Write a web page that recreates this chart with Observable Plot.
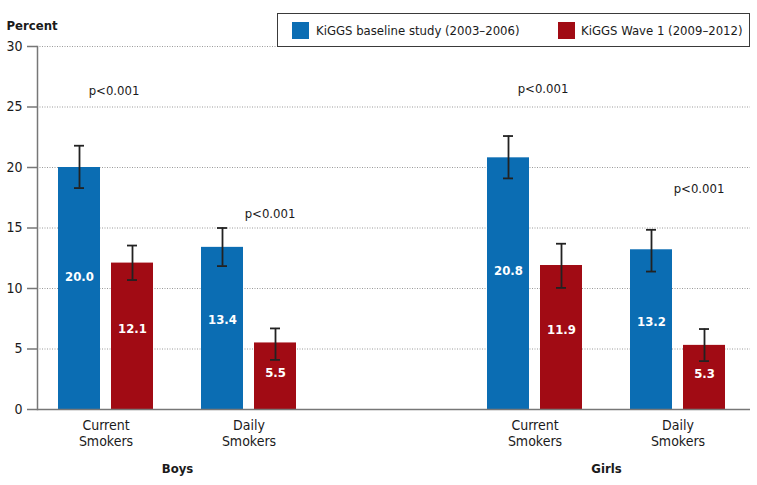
<!DOCTYPE html>
<html>
<head>
<meta charset="utf-8">
<script src="https://cdn.jsdelivr.net/npm/d3@7"></script>
<script src="https://cdn.jsdelivr.net/npm/@observablehq/plot@0.6"></script>
<style>
  html, body { margin: 0; padding: 0; background: #fff; }
  #wrap { position: relative; width: 757px; height: 485px; font-family: "DejaVu Sans Condensed", "Liberation Sans Narrow", "Roboto", sans-serif; color: #1a1a1a; }
  #legend { position: absolute; left: 277px; top: 13px; width: 473px; height: 34px; border: 1px solid #3a3a3a; background: #fff; box-sizing: border-box; }
  .sw { position: absolute; top: 8px; width: 17px; height: 17px; }
  .lt { position: absolute; top: 0; line-height: 33px; font-size: 13px; white-space: nowrap; }
</style>
</head>
<body>
<div id="wrap"></div>
<script>
// ---- data ----
const groups = ["Boys|Current", "Boys|Daily", "Girls|Current", "Girls|Daily"];
const categoryLabels = ["Current\nSmokers", "Daily\nSmokers", "Current\nSmokers", "Daily\nSmokers"];
const sexes = ["Boys", "Girls"];
const sexFirstGroup = ["Boys|Current", "Girls|Current"];
const seriesNames = ["KiGGS baseline study (2003–2006)", "KiGGS Wave 1 (2009–2012)"];
const baseline = [20.0, 13.4, 20.8, 13.2];
const baselineLow = [18.3, 11.85, 19.1, 11.4];
const baselineHigh = [21.8, 15.0, 22.6, 14.85];
const wave1 = [12.1, 5.5, 11.9, 5.3];
const wave1Low = [10.7, 4.1, 10.05, 4.0];
const wave1High = [13.55, 6.7, 13.7, 6.65];
const pLabels = ["p<0.001", "p<0.001", "p<0.001", "p<0.001"];
const pLabelY = [26.3, 16.2, 26.5, 18.2];
const yTicks = [0, 5, 10, 15, 20, 25, 30];

const colors = ["#0b6db3", "#a10b14"];
const FONT = '"DejaVu Sans Condensed", "Liberation Sans Narrow", "Roboto", sans-serif';

const rows = (vals, lo, hi) => groups.map((g, i) => ({group: g, value: vals[i], lo: lo[i], hi: hi[i]}));
const base = rows(baseline, baselineLow, baselineHigh);
const w1 = rows(wave1, wave1Low, wave1High);
const pData = groups.map((g, i) => ({group: g, label: pLabels[i], y: pLabelY[i], kind: g.split("|")[1]}));
const labelOf = new Map(groups.map((g, i) => [g, categoryLabels[i]]));

const BAR_OFF = 26.5; // half distance between paired bar centers (px)

const errMarks = (data, side) => [
  Plot.ruleX(data, {x: "group", y1: "lo", y2: "hi", dx: side * BAR_OFF, stroke: "#222", strokeWidth: 1.8}),
  Plot.tickY(data, {x: "group", y: "hi", stroke: "#222", strokeWidth: 1.8,
    insetLeft: side < 0 ? 16 : 69, insetRight: side < 0 ? 69 : 16}),
  Plot.tickY(data, {x: "group", y: "lo", stroke: "#222", strokeWidth: 1.8,
    insetLeft: side < 0 ? 16 : 69, insetRight: side < 0 ? 69 : 16})
];

const chart = Plot.plot({
  width: 757,
  height: 485,
  marginTop: 46,
  marginBottom: 76,
  marginLeft: 37,
  marginRight: 7,
  style: {fontFamily: FONT, fontSize: "14px", color: "#1a1a1a", background: "transparent"},
  x: {
    type: "band",
    domain: ["Boys|Current", "Boys|Daily", "gap", "Girls|Current", "Girls|Daily"],
    paddingInner: 0.3357,
    paddingOuter: 0.1608,
    align: 0.457,
    axis: null
  },
  y: {domain: [0, 30], axis: null},
  marks: [
    Plot.ruleY(yTicks.filter(t => t > 0), {stroke: "#9a9a9a", strokeWidth: 1, strokeDasharray: "1,1.5"}),
    Plot.barY(base, {x: "group", y: "value", fill: colors[0], insetRight: 53}),
    Plot.barY(w1, {x: "group", y: "value", fill: colors[1], insetLeft: 53}),
    ...errMarks(base, -1),
    ...errMarks(w1, 1),
    Plot.text(base, {x: "group", y: d => d.value * 0.55, dx: -BAR_OFF, text: d => d.value.toFixed(1), fill: "white", fontWeight: "bold", fontSize: 13}),
    Plot.text(w1, {x: "group", y: d => d.value * 0.55, dx: BAR_OFF, text: d => d.value.toFixed(1), fill: "white", fontWeight: "bold", fontSize: 13}),
    Plot.text(pData.filter(d => d.kind === "Current"), {x: "group", y: "y", text: "label", dx: 8, fill: "#1a1a1a", fontSize: 13}),
    Plot.text(pData.filter(d => d.kind === "Daily"), {x: "group", y: "y", text: "label", dx: 21, fill: "#1a1a1a", fontSize: 13}),
    Plot.ruleY([0], {stroke: "#777", strokeWidth: 1.5}),
    Plot.frame({anchor: "left", stroke: "#777", strokeWidth: 1.5}),
    Plot.axisY({ticks: yTicks, tickSize: 10, tickPadding: 5, label: null, stroke: "#777", strokeWidth: 1.5, fill: "#1a1a1a", fontSize: 14}),
    Plot.axisX({ticks: groups, tickSize: 0, tickPadding: 9, tickFormat: g => labelOf.get(g), label: null, lineHeight: 1.15, fill: "#1a1a1a", fontSize: 14}),
    Plot.text(sexes, {x: (d, i) => sexFirstGroup[i], text: d => d, frameAnchor: "bottom", dx: 71.5, dy: 63, fontWeight: "bold", fontSize: 13, fill: "#1a1a1a"}),
    Plot.text(["Percent"], {frameAnchor: "top-left", dx: -31, dy: -26, textAnchor: "start", fontWeight: "bold", fontSize: 13, fill: "#1a1a1a"})
  ]
});

const wrap = document.getElementById("wrap");
wrap.appendChild(chart);
chart.style.position = "absolute";
chart.style.left = "0";
chart.style.top = "0";

const legend = document.createElement("div");
legend.id = "legend";
const items = [{sw: 14, tx: 38}, {sw: 280, tx: 303}];
seriesNames.forEach((name, i) => {
  const s = document.createElement("div");
  s.className = "sw";
  s.style.left = items[i].sw + "px";
  s.style.background = colors[i];
  const t = document.createElement("div");
  t.className = "lt";
  t.style.left = items[i].tx + "px";
  t.textContent = name;
  legend.appendChild(s);
  legend.appendChild(t);
});
wrap.appendChild(legend);
</script>
</body>
</html>
